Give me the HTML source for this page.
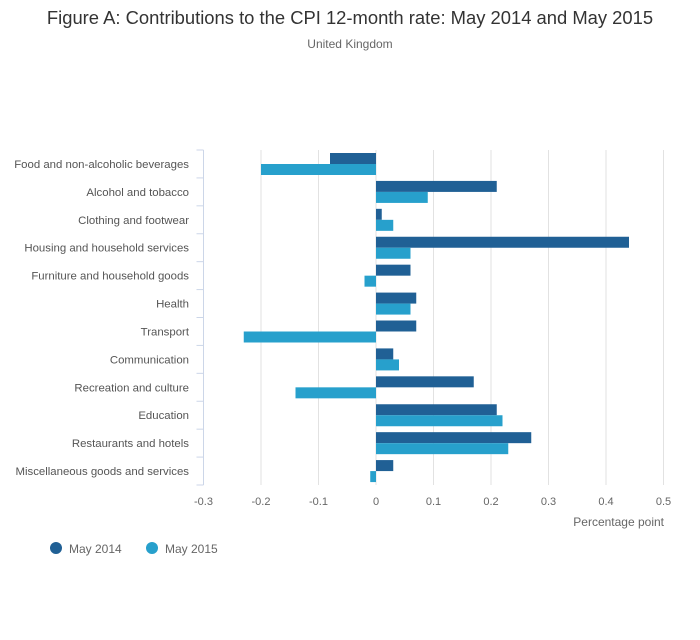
<!DOCTYPE html>
<html><head><meta charset="utf-8"><style>
body{margin:0;background:#fff;font-family:"Liberation Sans",sans-serif;}
</style></head><body>
<svg width="700" height="635" viewBox="0 0 700 635" font-family="Liberation Sans, sans-serif">
<text x="350" y="24" text-anchor="middle" font-size="18.4" fill="#333">Figure A: Contributions to the CPI 12-month rate: May 2014 and May 2015</text>
<text x="350" y="48" text-anchor="middle" font-size="12" fill="#666">United Kingdom</text>
<g id="grid"></g><g id="bars"></g><g id="cats"></g><g id="ticks"></g>
<text x="664" y="526" text-anchor="end" font-size="12" fill="#666">Percentage point</text>
<g><circle cx="56" cy="548" r="6" fill="#206095"/><text x="69" y="553" font-size="12" fill="#666">May 2014</text></g>
<g><circle cx="152" cy="548" r="6" fill="#27a0cc"/><text x="165" y="553" font-size="12" fill="#666">May 2015</text></g>
</svg>
<script>
const categories=["Food and non-alcoholic beverages","Alcohol and tobacco","Clothing and footwear","Housing and household services","Furniture and household goods","Health","Transport","Communication","Recreation and culture","Education","Restaurants and hotels","Miscellaneous goods and services"];
const may2014=[-0.08,0.21,0.01,0.44,0.06,0.07,0.07,0.03,0.17,0.21,0.27,0.03];
const may2015=[-0.2,0.09,0.03,0.06,-0.02,0.06,-0.23,0.04,-0.14,0.22,0.23,-0.01];
const xTicks=[-0.3,-0.2,-0.1,0,0.1,0.2,0.3,0.4,0.5];
const NS="http://www.w3.org/2000/svg";
const x0=203.5,x1=663.5,yTop=150,yBot=485,rh=(yBot-yTop)/categories.length;
const X=v=>x0+(v+0.3)/0.8*(x1-x0);
function mk(p,t,a){const e=document.createElementNS(NS,t);for(const k in a)e.setAttribute(k,a[k]);document.getElementById(p).appendChild(e);return e;}
xTicks.forEach(t=>{
 const l=mk('grid','line',{x1:X(t),x2:X(t),y1:yTop,y2:yBot,stroke:'#e2e2e2','stroke-width':1});
 
 
 const tx=mk('ticks','text',{x:X(t),y:505,'text-anchor':'middle','font-size':11,fill:'#666'});
 tx.textContent=t;
 
 
});
const ax=mk('grid','line',{x1:x0,x2:x0,y1:yTop,y2:yBot,stroke:'#ccd6e8','stroke-width':1});


for(let i=0;i<=categories.length;i++){
 const tk=mk('grid','line',{x1:x0-7,x2:x0,y1:yTop+i*rh,y2:yTop+i*rh,stroke:'#ccd6e8'});
 
 
}
categories.forEach((c,i)=>{
 const y=yTop+i*rh;
 const t=mk('cats','text',{x:189,y:y+rh/2+4,'text-anchor':'end','font-size':11.4,fill:'#555'});
 t.textContent=c;
 
 
 [[may2014[i],'#206095',y+3],[may2015[i],'#27a0cc',y+14]].forEach(([v,col,by],j)=>{
  const a=X(0),b=X(v);
  const r=mk('bars','rect',{x:Math.min(a,b),y:by,width:Math.abs(b-a),height:11,fill:col});
  
  
 });
});
</script>
</body></html>
